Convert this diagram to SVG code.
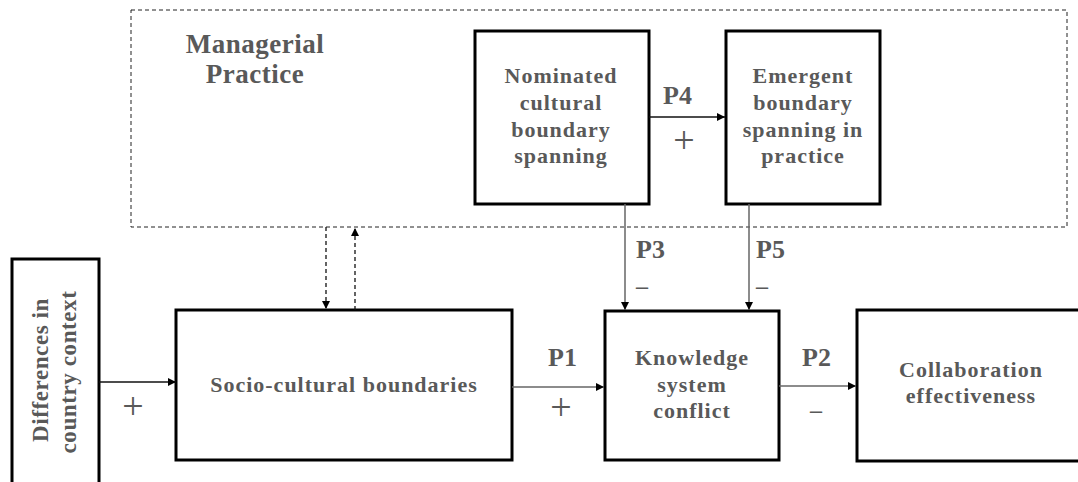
<svg xmlns="http://www.w3.org/2000/svg" width="1078" height="482" viewBox="0 0 1078 482">
<defs>
<marker id="ah" markerUnits="userSpaceOnUse" markerWidth="9" markerHeight="9" refX="8" refY="4" orient="auto"><path d="M0,0 L8,4 L0,8 z" fill="#000"/></marker>
<style>
.box{fill:#fff;stroke:#000;stroke-width:3}
.dash{fill:none;stroke:#222;stroke-width:1;stroke-dasharray:4 3}
.t{font-family:"Liberation Serif","Times New Roman",serif;font-weight:bold;fill:#595959;font-size:22px;letter-spacing:1px;text-anchor:middle}
.big{font-size:27px;letter-spacing:0.5px}
.v{font-size:23px;letter-spacing:0.6px}
.p{font-family:"Liberation Serif","Times New Roman",serif;font-weight:bold;fill:#595959;font-size:26px}
.s{font-family:"Liberation Serif","Times New Roman",serif;fill:#595959;font-size:38px;text-anchor:middle}
.m{font-family:"Liberation Serif","Times New Roman",serif;font-weight:bold;fill:#595959;font-size:24px;text-anchor:middle}
.c{fill:none;stroke:#666;stroke-width:1.5;marker-end:url(#ah)}
.cb{fill:none;stroke:#111;stroke-width:1.5;marker-end:url(#ah)}
.cd{fill:none;stroke:#111;stroke-width:1.3;stroke-dasharray:4 3;marker-end:url(#ah)}
</style>
</defs>
<rect width="1078" height="482" fill="#fff"/>
<g id="managerial-practice">
<rect class="dash" x="131" y="10" width="936" height="217"/>
<text class="t big" x="255" y="53">Managerial</text>
<text class="t big" x="255" y="83">Practice</text>
</g>
<g id="nominated">
<rect class="box" x="475" y="31" width="174" height="173"/>
<text class="t" x="561" y="83">Nominated</text>
<text class="t" x="561" y="110">cultural</text>
<text class="t" x="561" y="137">boundary</text>
<text class="t" x="561" y="163">spanning</text>
</g>
<g id="emergent">
<rect class="box" x="726" y="31" width="154" height="173"/>
<text class="t" x="803" y="83">Emergent</text>
<text class="t" x="803" y="110">boundary</text>
<text class="t" x="803" y="137">spanning in</text>
<text class="t" x="803" y="163">practice</text>
</g>
<g id="differences">
<rect class="box" x="12" y="259" width="87" height="240"/>
<text class="t v" transform="translate(48,370) rotate(-90)">Differences in</text>
<text class="t v" transform="translate(76,372) rotate(-90)">country context</text>
</g>
<g id="socio">
<rect class="box" x="176" y="310" width="336" height="150"/>
<text class="t" x="344" y="392">Socio-cultural boundaries</text>
</g>
<g id="knowledge">
<rect class="box" x="605" y="311" width="174" height="149"/>
<text class="t" x="692" y="365">Knowledge</text>
<text class="t" x="692" y="392">system</text>
<text class="t" x="692" y="418">conflict</text>
</g>
<g id="collaboration">
<rect class="box" x="857" y="310" width="240" height="151"/>
<text class="t" x="971" y="377">Collaboration</text>
<text class="t" x="971" y="403">effectiveness</text>
</g>
<g id="connectors">
<line class="cb" x1="99" y1="382" x2="176" y2="382"/>
<line class="c" x1="512" y1="387" x2="604" y2="387"/>
<line class="c" x1="779" y1="386" x2="856" y2="386"/>
<line class="cb" x1="649" y1="117" x2="725" y2="117"/>
<line class="c" x1="625" y1="204" x2="625" y2="310"/>
<line class="c" x1="749" y1="204" x2="749" y2="310"/>
<line class="cd" x1="326" y1="227" x2="326" y2="309"/>
<line class="cd" x1="355" y1="310" x2="355" y2="228"/>
<text class="p" x="663" y="104">P4</text>
<text class="s" x="684" y="153">+</text>
<text class="p" x="636" y="258">P3</text>
<text class="m" x="642" y="294">–</text>
<text class="p" x="756" y="258">P5</text>
<text class="m" x="762" y="294">–</text>
<text class="p" x="548" y="366">P1</text>
<text class="s" x="561" y="420">+</text>
<text class="p" x="802" y="366">P2</text>
<text class="m" x="816" y="418">–</text>
<text class="s" x="133" y="419">+</text>
</g>
</svg>
